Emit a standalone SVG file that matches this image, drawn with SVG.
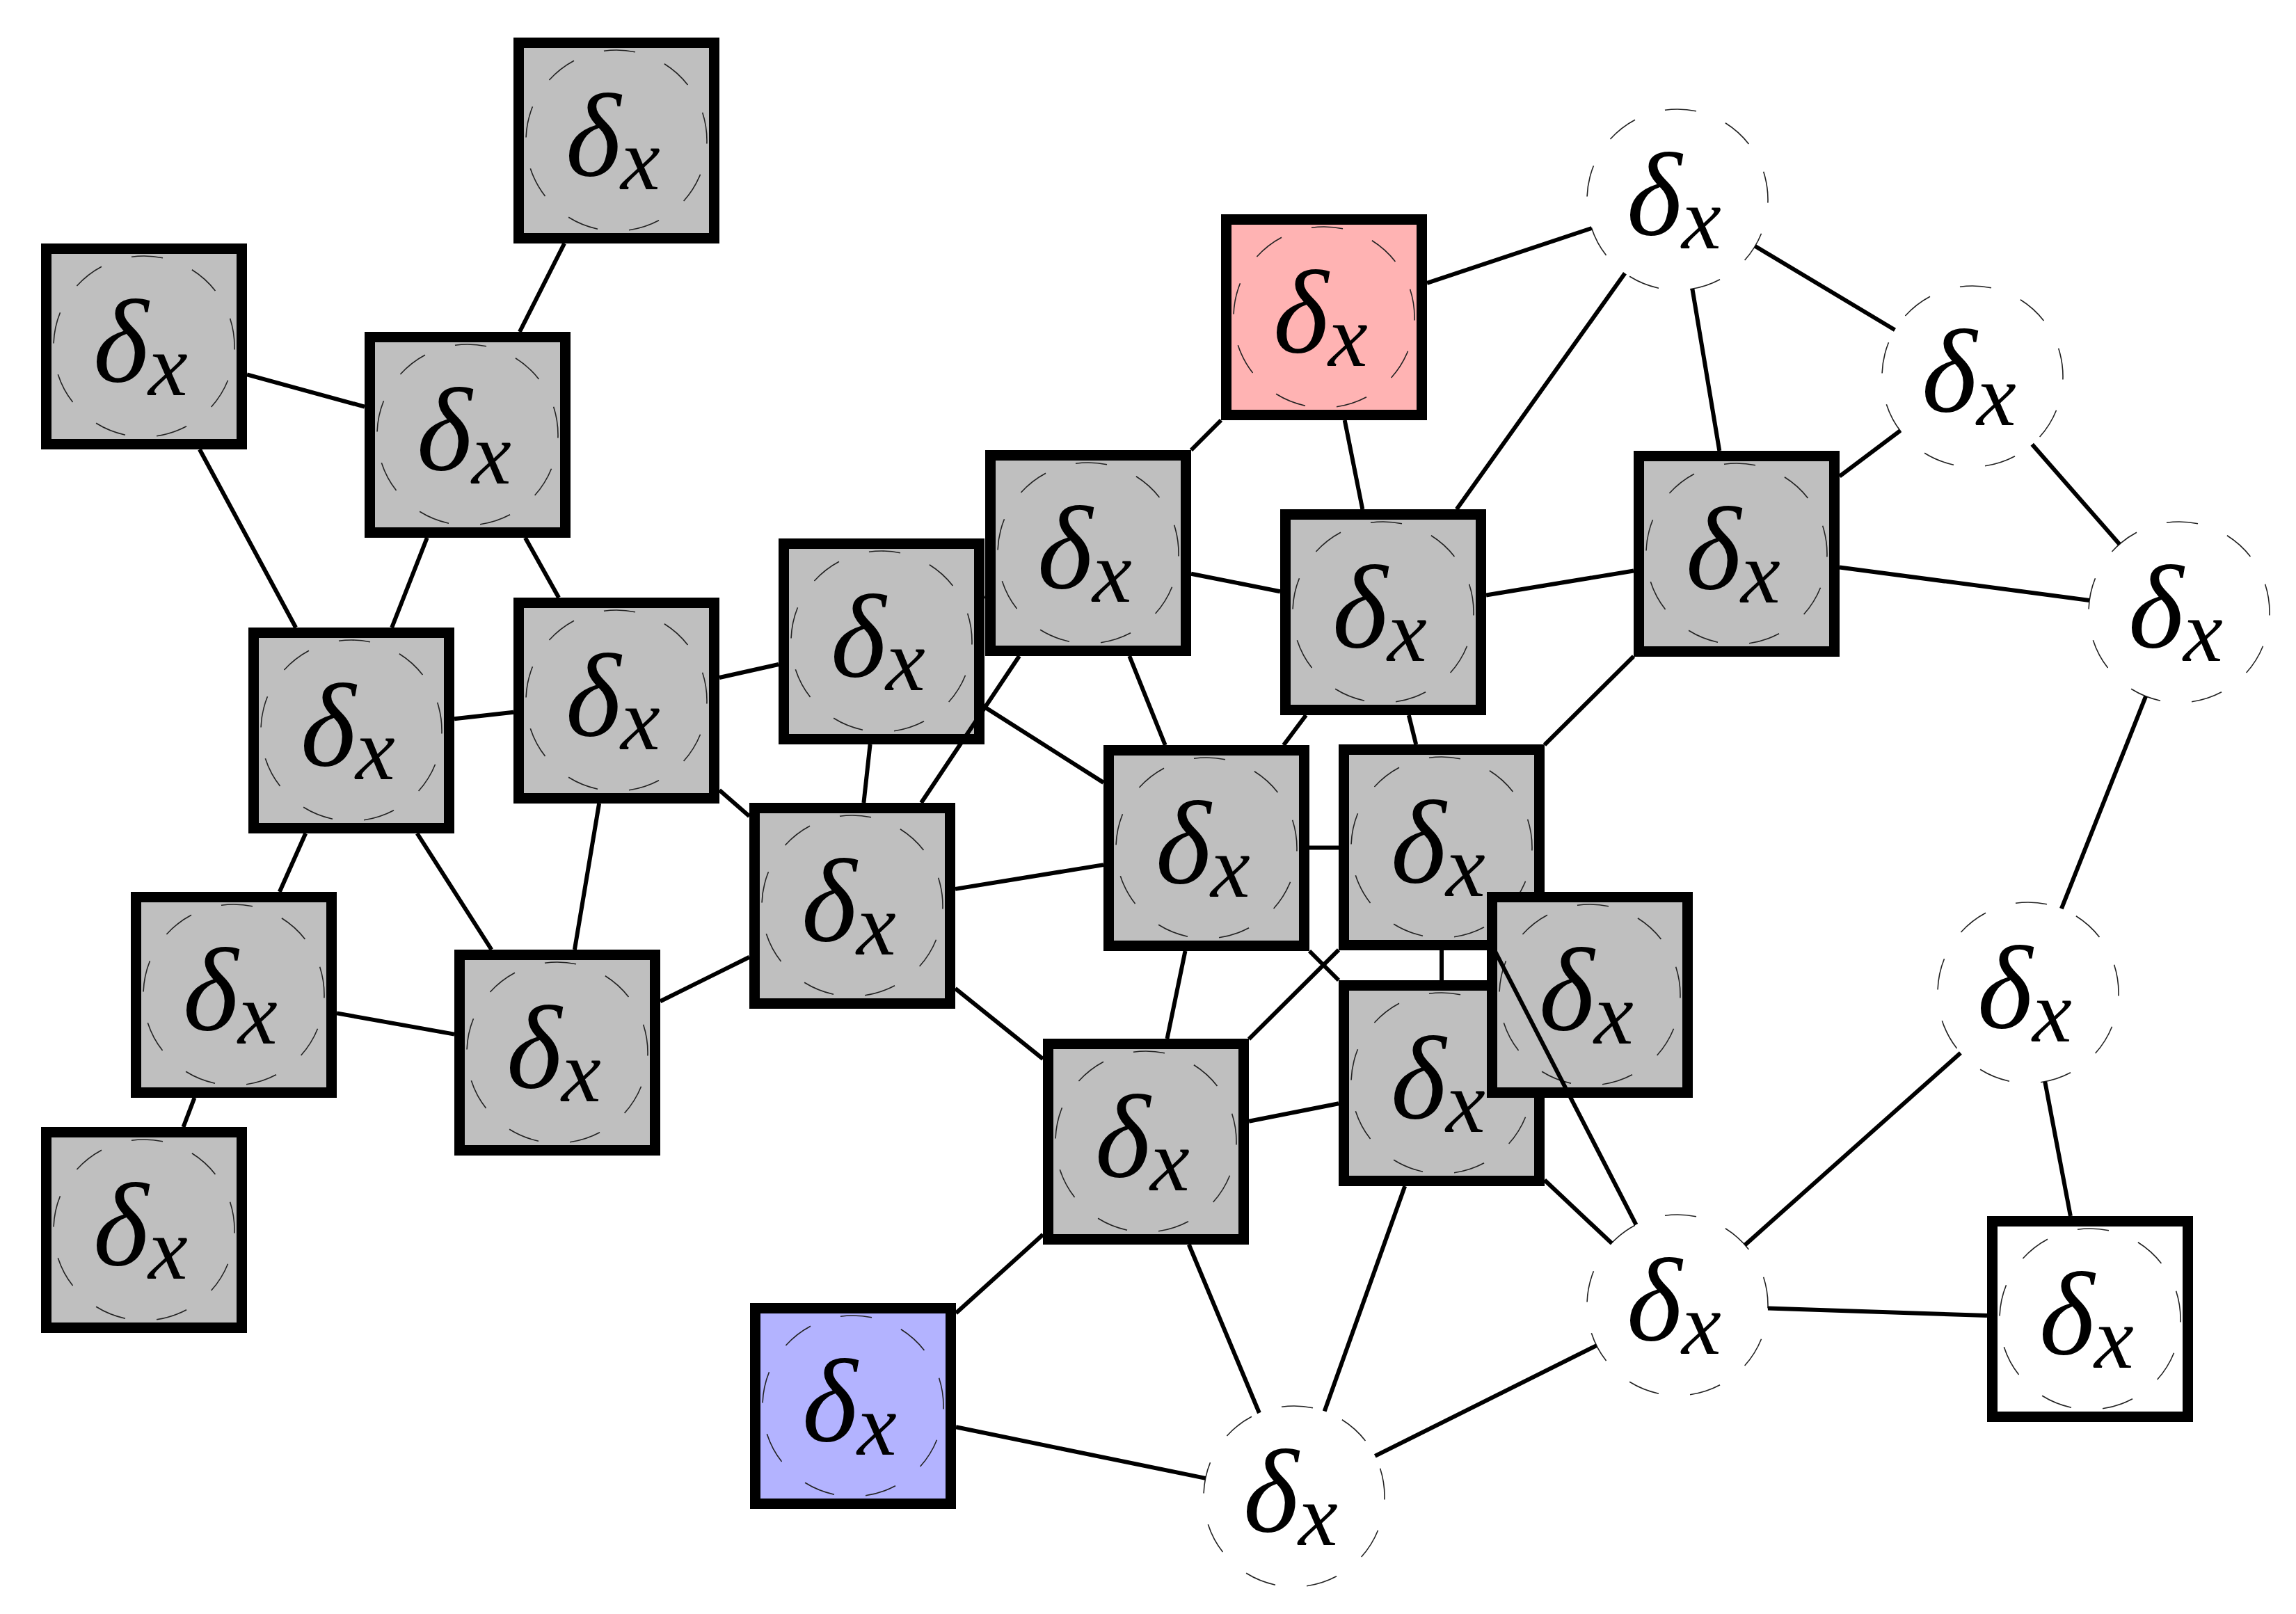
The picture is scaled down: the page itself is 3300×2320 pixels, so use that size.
<svg xmlns="http://www.w3.org/2000/svg" width="3300" height="2320" viewBox="0 0 3300 2320">
<style>
.sq{stroke:#000;stroke-width:15}
.g{fill:#bfbfbf}
.pk{fill:#ffb3b3}
.bl{fill:#b3b3ff}
.wh{fill:#fff}
.dc{fill:none;stroke:#222;stroke-width:1.6;stroke-dasharray:1 1;stroke-dashoffset:0.9}
.lbl{font-family:"Liberation Serif","DejaVu Serif",serif;font-style:italic;font-size:170px;fill:#000}
.sub{font-size:128px}
.e line{stroke:#000;stroke-width:6;stroke-linecap:butt}
</style>
<rect width="3300" height="2320" fill="#fff"/>
<g id="nodes">
<g id="n1"><rect class="sq g" x="745.5" y="61.5" width="281" height="281"/><circle class="dc" cx="886" cy="202" r="130" pathLength="18"/><text class="lbl" x="813" y="252">δ<tspan class="sub" dy="20">x</tspan></text></g>
<g id="n2"><rect class="sq g" x="66.5" y="357.5" width="281" height="281"/><circle class="dc" cx="207" cy="498" r="130" pathLength="18"/><text class="lbl" x="134" y="548">δ<tspan class="sub" dy="20">x</tspan></text></g>
<g id="n3"><rect class="sq g" x="531.5" y="484.5" width="281" height="281"/><circle class="dc" cx="672" cy="625" r="130" pathLength="18"/><text class="lbl" x="599" y="675">δ<tspan class="sub" dy="20">x</tspan></text></g>
<g id="n4"><rect class="sq g" x="364.5" y="909.5" width="281" height="281"/><circle class="dc" cx="505" cy="1050" r="130" pathLength="18"/><text class="lbl" x="432" y="1100">δ<tspan class="sub" dy="20">x</tspan></text></g>
<g id="n5"><rect class="sq g" x="745.5" y="866.5" width="281" height="281"/><circle class="dc" cx="886" cy="1007" r="130" pathLength="18"/><text class="lbl" x="813" y="1057">δ<tspan class="sub" dy="20">x</tspan></text></g>
<g id="n6"><rect class="sq g" x="195.5" y="1289.5" width="281" height="281"/><circle class="dc" cx="336" cy="1430" r="130" pathLength="18"/><text class="lbl" x="263" y="1480">δ<tspan class="sub" dy="20">x</tspan></text></g>
<g id="n7"><rect class="sq g" x="66.5" y="1627.5" width="281" height="281"/><circle class="dc" cx="207" cy="1768" r="130" pathLength="18"/><text class="lbl" x="134" y="1818">δ<tspan class="sub" dy="20">x</tspan></text></g>
<g id="n8"><rect class="sq g" x="660.5" y="1372.5" width="281" height="281"/><circle class="dc" cx="801" cy="1513" r="130" pathLength="18"/><text class="lbl" x="728" y="1563">δ<tspan class="sub" dy="20">x</tspan></text></g>
<g id="n9"><rect class="sq g" x="1126.5" y="781.5" width="281" height="281"/><circle class="dc" cx="1267" cy="922" r="130" pathLength="18"/><text class="lbl" x="1194" y="972">δ<tspan class="sub" dy="20">x</tspan></text></g>
<g id="n10"><rect class="sq g" x="1423.5" y="654.5" width="281" height="281"/><circle class="dc" cx="1564" cy="795" r="130" pathLength="18"/><text class="lbl" x="1491" y="845">δ<tspan class="sub" dy="20">x</tspan></text></g>
<g id="n11"><rect class="sq g" x="1084.5" y="1161.5" width="281" height="281"/><circle class="dc" cx="1225" cy="1302" r="130" pathLength="18"/><text class="lbl" x="1152" y="1352">δ<tspan class="sub" dy="20">x</tspan></text></g>
<g id="n12"><rect class="sq pk" x="1762.5" y="315.5" width="281" height="281"/><circle class="dc" cx="1903" cy="456" r="130" pathLength="18"/><text class="lbl" x="1830" y="506">δ<tspan class="sub" dy="20">x</tspan></text></g>
<g id="n13"><rect class="sq g" x="1847.5" y="739.5" width="281" height="281"/><circle class="dc" cx="1988" cy="880" r="130" pathLength="18"/><text class="lbl" x="1915" y="930">δ<tspan class="sub" dy="20">x</tspan></text></g>
<g id="n14"><rect class="sq g" x="2355.5" y="655.5" width="281" height="281"/><circle class="dc" cx="2496" cy="796" r="130" pathLength="18"/><text class="lbl" x="2423" y="846">δ<tspan class="sub" dy="20">x</tspan></text></g>
<g id="n15"><rect class="sq g" x="1593.5" y="1078.5" width="281" height="281"/><circle class="dc" cx="1734" cy="1219" r="130" pathLength="18"/><text class="lbl" x="1661" y="1269">δ<tspan class="sub" dy="20">x</tspan></text></g>
<g id="n16"><rect class="sq g" x="1931.5" y="1077.5" width="281" height="281"/><circle class="dc" cx="2072" cy="1218" r="130" pathLength="18"/><text class="lbl" x="1999" y="1268">δ<tspan class="sub" dy="20">x</tspan></text></g>
<g id="n17"><rect class="sq g" x="1931.5" y="1416.5" width="281" height="281"/><circle class="dc" cx="2072" cy="1557" r="130" pathLength="18"/><text class="lbl" x="1999" y="1607">δ<tspan class="sub" dy="20">x</tspan></text></g>
<g id="n18"><rect class="sq g" x="2144.5" y="1289.5" width="281" height="281"/><circle class="dc" cx="2285" cy="1430" r="130" pathLength="18"/><text class="lbl" x="2212" y="1480">δ<tspan class="sub" dy="20">x</tspan></text></g>
<g id="n19"><rect class="sq g" x="1506.5" y="1500.5" width="281" height="281"/><circle class="dc" cx="1647" cy="1641" r="130" pathLength="18"/><text class="lbl" x="1574" y="1691">δ<tspan class="sub" dy="20">x</tspan></text></g>
<g id="n20"><rect class="sq bl" x="1085.5" y="1880.5" width="281" height="281"/><circle class="dc" cx="1226" cy="2021" r="130" pathLength="18"/><text class="lbl" x="1153" y="2071">δ<tspan class="sub" dy="20">x</tspan></text></g>
<g id="n21"><circle class="dc" cx="2411" cy="287" r="130" pathLength="18"/><text class="lbl" x="2338" y="337">δ<tspan class="sub" dy="20">x</tspan></text></g>
<g id="n22"><circle class="dc" cx="2835" cy="541" r="130" pathLength="18"/><text class="lbl" x="2762" y="591">δ<tspan class="sub" dy="20">x</tspan></text></g>
<g id="n23"><circle class="dc" cx="3132" cy="880" r="130" pathLength="18"/><text class="lbl" x="3059" y="930">δ<tspan class="sub" dy="20">x</tspan></text></g>
<g id="n24"><circle class="dc" cx="2915" cy="1427" r="130" pathLength="18"/><text class="lbl" x="2842" y="1477">δ<tspan class="sub" dy="20">x</tspan></text></g>
<g id="n25"><circle class="dc" cx="2411" cy="1876" r="130" pathLength="18"/><text class="lbl" x="2338" y="1926">δ<tspan class="sub" dy="20">x</tspan></text></g>
<g id="n26"><circle class="dc" cx="1860" cy="2151" r="130" pathLength="18"/><text class="lbl" x="1787" y="2201">δ<tspan class="sub" dy="20">x</tspan></text></g>
<g id="n27"><rect class="sq wh" x="2863.5" y="1755.5" width="281" height="281"/><circle class="dc" cx="3004" cy="1896" r="130" pathLength="18"/><text class="lbl" x="2931" y="1946">δ<tspan class="sub" dy="20">x</tspan></text></g>
</g>
<g id="edges" class="e">
<line x1="811.1" y1="350" x2="746.9" y2="477"/>
<line x1="355" y1="538.4" x2="524" y2="584.6"/>
<line x1="286.9" y1="646" x2="425.1" y2="902"/>
<line x1="613.8" y1="773" x2="563.2" y2="902"/>
<line x1="754.9" y1="773" x2="803.1" y2="859"/>
<line x1="653" y1="1033.3" x2="738" y2="1023.7"/>
<line x1="439.2" y1="1198" x2="401.8" y2="1282"/>
<line x1="599.6" y1="1198" x2="706.4" y2="1365"/>
<line x1="861.1" y1="1155" x2="825.9" y2="1365"/>
<line x1="1034" y1="974" x2="1119" y2="955"/>
<line x1="1034" y1="1135.8" x2="1077" y2="1173.2"/>
<line x1="279.5" y1="1578" x2="263.5" y2="1620"/>
<line x1="484" y1="1456.4" x2="653" y2="1486.6"/>
<line x1="949" y1="1439.3" x2="1077" y2="1375.7"/>
<line x1="1415" y1="858.7" x2="1416" y2="858.3"/>
<line x1="1250.6" y1="1070" x2="1241.4" y2="1154"/>
<line x1="1415" y1="1016.1" x2="1586" y2="1124.9"/>
<line x1="1465" y1="943" x2="1324" y2="1154"/>
<line x1="1712" y1="647" x2="1755" y2="604"/>
<line x1="1712" y1="824.7" x2="1840" y2="850.3"/>
<line x1="1623.3" y1="943" x2="1674.7" y2="1071"/>
<line x1="1373" y1="1277.9" x2="1586" y2="1243.1"/>
<line x1="1373" y1="1420.9" x2="1499" y2="1522.1"/>
<line x1="1932.7" y1="604" x2="1958.3" y2="732"/>
<line x1="2051" y1="406.8" x2="2287.7" y2="328"/>
<line x1="2136" y1="855.5" x2="2348" y2="820.5"/>
<line x1="1877.1" y1="1028" x2="1844.9" y2="1071"/>
<line x1="2024.8" y1="1028" x2="2035.2" y2="1070"/>
<line x1="2093.6" y1="732" x2="2335.5" y2="392.8"/>
<line x1="2348" y1="943.3" x2="2220" y2="1070.7"/>
<line x1="2471.3" y1="648" x2="2432.4" y2="415.2"/>
<line x1="2644" y1="684.7" x2="2731.1" y2="619.2"/>
<line x1="2644" y1="815.5" x2="3003.1" y2="863"/>
<line x1="1882" y1="1218.6" x2="1924" y2="1218.4"/>
<line x1="1882" y1="1367" x2="1924" y2="1409"/>
<line x1="1703.5" y1="1367" x2="1677.5" y2="1493"/>
<line x1="2072" y1="1366" x2="2072" y2="1409"/>
<line x1="1924" y1="1365.3" x2="1795" y2="1493.7"/>
<line x1="2148.2" y1="1366" x2="2351.5" y2="1760.4"/>
<line x1="1924" y1="1586.3" x2="1795" y2="1611.7"/>
<line x1="2220" y1="1696.3" x2="2316.3" y2="1786.9"/>
<line x1="2019.2" y1="1705" x2="1903.7" y2="2028.6"/>
<line x1="1499" y1="1774.6" x2="1374" y2="1887.4"/>
<line x1="1708.8" y1="1789" x2="1809.9" y2="2031"/>
<line x1="1374" y1="2051.3" x2="1732.6" y2="2124.9"/>
<line x1="2522.5" y1="353.8" x2="2723.5" y2="474.2"/>
<line x1="2920.7" y1="638.8" x2="3046.3" y2="782.2"/>
<line x1="3084.1" y1="1000.8" x2="2962.9" y2="1306.2"/>
<line x1="2817.9" y1="1513.5" x2="2508.1" y2="1789.5"/>
<line x1="2939.2" y1="1554.7" x2="2975.9" y2="1748"/>
<line x1="2294.7" y1="1934.1" x2="1976.3" y2="2092.9"/>
<line x1="2541" y1="1880.4" x2="2856" y2="1891"/>
</g>
</svg>
